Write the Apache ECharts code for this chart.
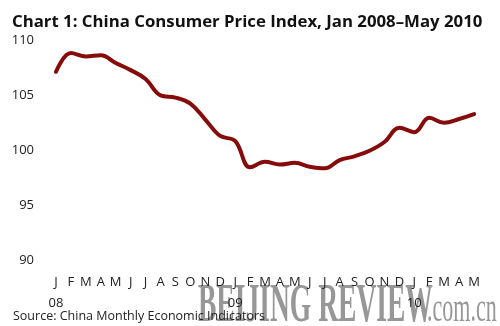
<!DOCTYPE html>
<html>
<head>
<meta charset="utf-8">
<script src="https://cdn.jsdelivr.net/npm/echarts@6/dist/echarts.min.js"></script>
<style>
html,body{margin:0;padding:0;background:#fff;}
#chart{width:500px;height:326px;}
</style>
</head>
<body>
<div id="chart"></div>
<script>
var monthLabels = ['J','F','M','A','M','J','J','A','S','O','N','D',
                   'J','F','M','A','M','J','J','A','S','O','N','D',
                   'J','F','M','A','M'];
var yearLabels = {0:'08', 12:'09', 24:'10'};
var cpiValues = [107.15,108.85,108.55,108.65,107.95,107.3,106.5,105.0,104.8,104.25,102.8,101.3,
                 100.85,98.45,98.95,98.7,98.85,98.5,98.35,99.1,99.45,99.95,100.75,102.05,
                 101.65,102.95,102.5,102.85,103.3];
var yTicks = [90,95,100,105,110];

var chart = echarts.init(document.getElementById('chart'));
chart.setOption({
  animation: false,
  backgroundColor: '#fff',
  title: {
    text: 'Chart 1: China Consumer Price Index, Jan 2008\u2013May 2010',
    left: 7, top: 9,
    textStyle: {fontFamily: 'Open Sans', fontWeight: 'bold', fontSize: 16.8, color: '#111'}
  },
  grid: {left: 56, right: 26, top: 40.5, bottom: 66},
  xAxis: {
    type: 'category',
    data: monthLabels,
    boundaryGap: false,
    z: 10,
    axisLine: {show: false},
    axisTick: {show: false},
    splitLine: {show: false},
    axisLabel: {
      interval: 0,
      margin: 12,
      fontFamily: 'Open Sans',
      fontSize: 13,
      lineHeight: 21,
      color: '#222',
      formatter: function (v, i) {
        return yearLabels[i] ? v + '\n' + yearLabels[i] : v;
      }
    }
  },
  yAxis: {
    type: 'value',
    min: yTicks[0], max: yTicks[yTicks.length - 1], interval: 5,
    axisLine: {show: false},
    axisTick: {show: false},
    splitLine: {show: false},
    axisLabel: {margin: 22, fontFamily: 'Open Sans', fontSize: 13, color: '#222'}
  },
  series: [{
    type: 'line',
    data: cpiValues,
    smooth: 0.4,
    symbol: 'none',
    lineStyle: {color: '#860b0b', width: 4, cap: 'round', join: 'round'}
  }],
  graphic: [
    {type: 'text', x: 198, y: 280, scaleX: 0.51, z: 0,
     style: {text: 'BEIJING REVIEW', font: 'bold 54px "Liberation Serif"', fill: 'rgba(140,140,140,0.9)', textVerticalAlign: 'top'}},
    {type: 'text', x: 427, y: 290, scaleX: 0.55, z: 0,
     style: {text: '.com.cn', font: '40px "Liberation Serif"', fill: 'rgba(140,140,140,0.9)', textVerticalAlign: 'top'}},
    {type: 'text', x: 13, y: 316, z: 5,
     style: {text: 'Source: China Monthly Economic Indicators', font: '12.5px "Open Sans"', fill: '#222', textVerticalAlign: 'middle'}}
  ]
});
</script>
</body>
</html>
